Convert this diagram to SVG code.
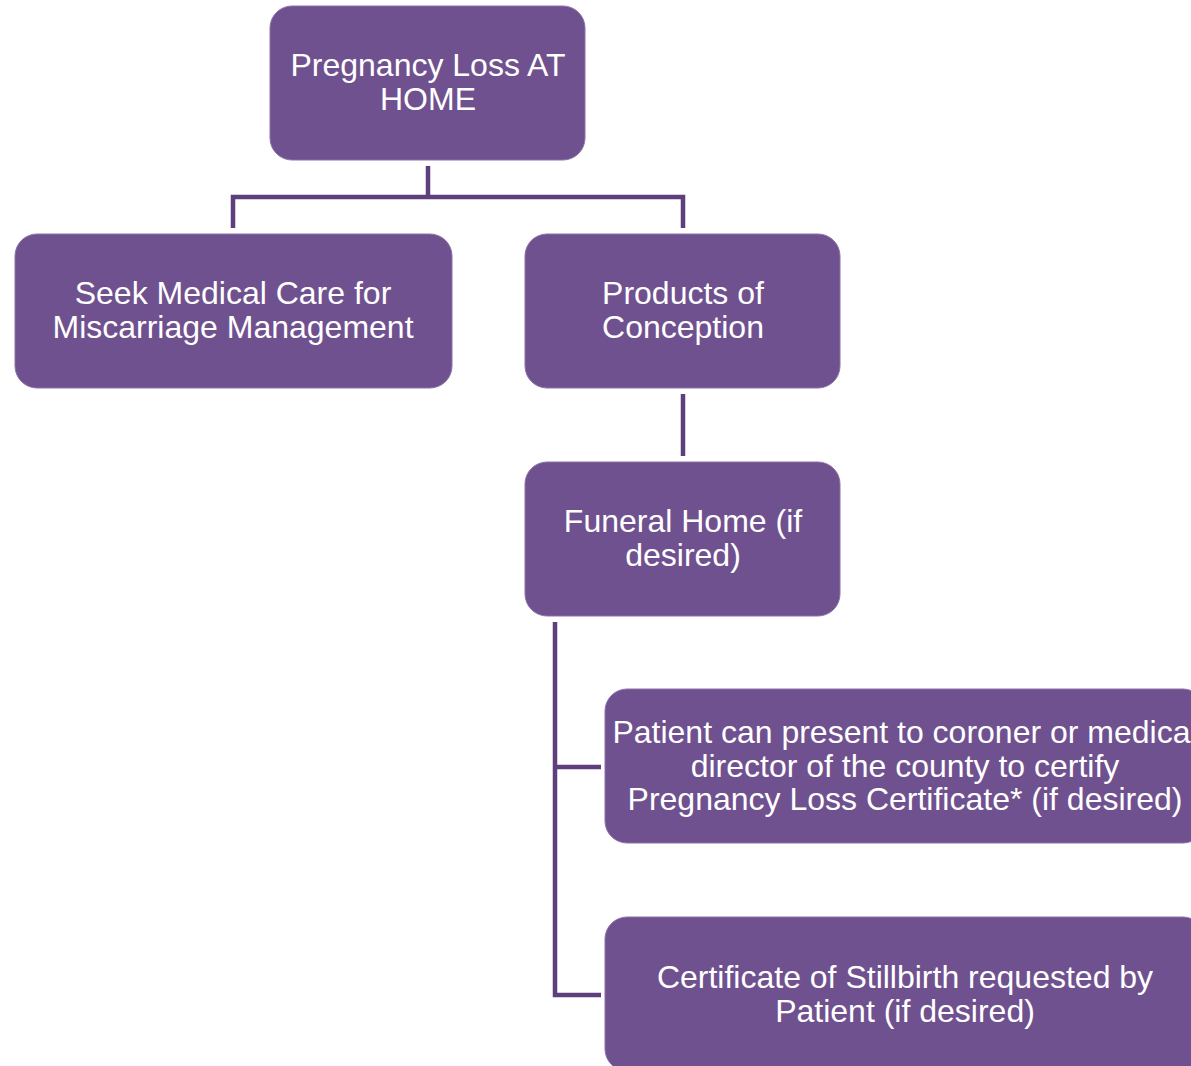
<svg xmlns="http://www.w3.org/2000/svg" width="1191" height="1066" viewBox="0 0 1191 1066">
<style>
.node{fill:#70518f;stroke:#8b72a6;stroke-width:1}
.lbl{font-family:"Liberation Sans",Arial,sans-serif;font-size:32px;fill:#ffffff;text-anchor:middle}
.conn{fill:none;stroke:#5c3f7c;stroke-width:4.5;stroke-linejoin:miter;stroke-linecap:butt}
</style>
<rect width="1191" height="1066" fill="#ffffff"/>
<g id="connectors">
<path class="conn" d="M428,166 V197 M233,228 V197 H683 V228"/>
<path class="conn" d="M683,394 V456"/>
<path class="conn" d="M555,622 V995 H601 M555,767 H601"/>
</g>
<g id="node-home">
<rect class="node" x="270" y="6" width="315" height="154" rx="22"/>
<text class="lbl" x="428" y="76">Pregnancy Loss AT</text>
<text class="lbl" x="428" y="110">HOME</text>
</g>
<g id="node-seek">
<rect class="node" x="15" y="234" width="437" height="154" rx="22"/>
<text class="lbl" x="233" y="304">Seek Medical Care for</text>
<text class="lbl" x="233" y="338">Miscarriage Management</text>
</g>
<g id="node-products">
<rect class="node" x="525" y="234" width="315" height="154" rx="22"/>
<text class="lbl" x="683" y="304">Products of</text>
<text class="lbl" x="683" y="338">Conception</text>
</g>
<g id="node-funeral">
<rect class="node" x="525" y="462" width="315" height="154" rx="22"/>
<text class="lbl" x="683" y="532">Funeral Home (if</text>
<text class="lbl" x="683" y="566">desired)</text>
</g>
<g id="node-coroner">
<rect class="node" x="605" y="689" width="600" height="154" rx="22"/>
<text class="lbl" x="905" y="743">Patient can present to coroner or medical</text>
<text class="lbl" x="905" y="777">director of the county to certify</text>
<text class="lbl" x="905" y="810">Pregnancy Loss Certificate* (if desired)</text>
</g>
<g id="node-stillbirth">
<rect class="node" x="605" y="917" width="600" height="154" rx="22"/>
<text class="lbl" x="905" y="988">Certificate of Stillbirth requested by</text>
<text class="lbl" x="905" y="1022">Patient (if desired)</text>
</g>
</svg>
